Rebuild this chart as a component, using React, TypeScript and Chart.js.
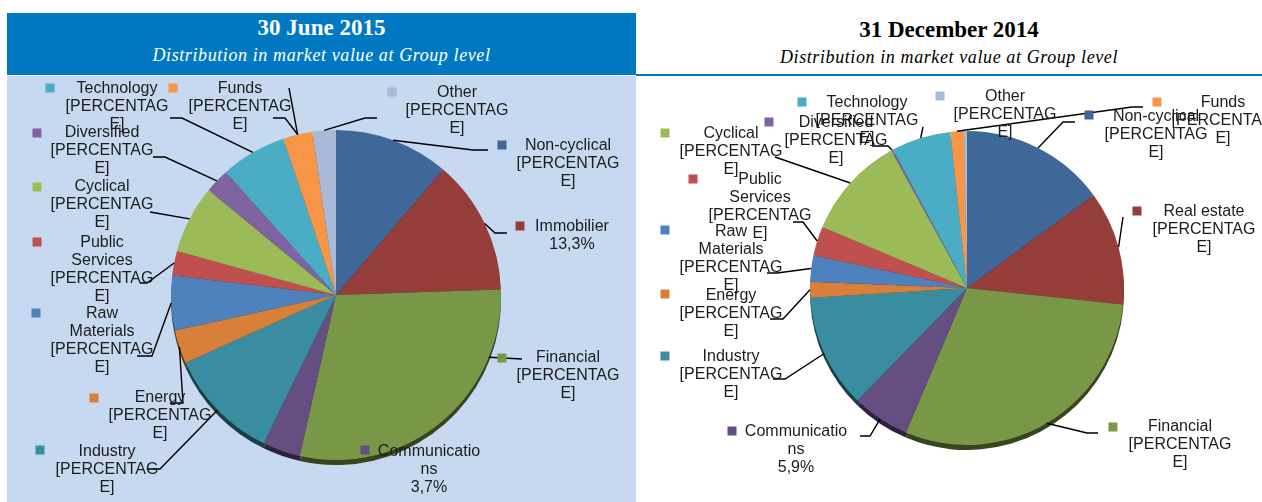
import React, { useEffect, useRef } from 'react';
import { Chart, registerables } from 'chart.js';

Chart.register(...registerables);

// ---------------- DATA ----------------
const LEFT_CATEGORIES = ['Non-cyclical', 'Immobilier', 'Financial', 'Communications', 'Industry', 'Energy', 'Raw Materials', 'Public Services', 'Cyclical', 'Diversified', 'Technology', 'Funds', 'Other'];
const LEFT_VALUES = [11.3, 13.3, 29.2, 3.7, 11.1, 3.3, 5.4, 2.4, 6.7, 2.4, 6.5, 2.9, 2.3];
const LEFT_LABEL_TEXT = ['Non-cyclical\n[PERCENTAG\nE]', 'Immobilier\n13,3%', 'Financial\n[PERCENTAG\nE]', 'Communicatio\nns\n3,7%', 'Industry\n[PERCENTAG\nE]', 'Energy\n[PERCENTAG\nE]', 'Raw\nMaterials\n[PERCENTAG\nE]', 'Public\nServices\n[PERCENTAG\nE]', 'Cyclical\n[PERCENTAG\nE]', 'Diversified\n[PERCENTAG\nE]', 'Technology\n[PERCENTAG\nE]', 'Funds\n[PERCENTAG\nE]', 'Other\n[PERCENTAG\nE]'];

const RIGHT_CATEGORIES = ['Non-cyclical', 'Real estate', 'Financial', 'Communications', 'Industry', 'Energy', 'Raw Materials', 'Public Services', 'Cyclical', 'Diversified', 'Technology', 'Funds', 'Other'];
const RIGHT_VALUES = [14.9, 11.7, 29.6, 5.9, 11.7, 1.6, 2.7, 3.0, 10.6, 0.2, 6.1, 1.4, 0.3];
const RIGHT_LABEL_TEXT = ['Non-cyclical\n[PERCENTAG\nE]', 'Real estate\n[PERCENTAG\nE]', 'Financial\n[PERCENTAG\nE]', 'Communicatio\nns\n5,9%', 'Industry\n[PERCENTAG\nE]', 'Energy\n[PERCENTAG\nE]', 'Raw\nMaterials\n[PERCENTAG\nE]', 'Public\nServices\n[PERCENTAG\nE]', 'Cyclical\n[PERCENTAG\nE]', 'Diversified\n[PERCENTAG\nE]', 'Technology\n[PERCENTAG\nE]', 'Funds\n[PERCENTAG\nE]', 'Other\n[PERCENTAG\nE]'];

const SLICE_COLORS = ['#3F6898', '#953D3A', '#789747', '#654E82', '#3A8CA1', '#D8803A', '#4F81BD', '#C0504D', '#9BBB59', '#8064A2', '#4BACC6', '#F79646', '#A8BAD8'];

// ---------------- LABEL LAYOUT (page coordinates) ----------------
type LabelLayout = { m: [number, number]; t: [number, number]; path: [number, number][]; at?: number; extra?: [number, number][] };

const LEFT_LAYOUT: LabelLayout[] = [
  { m: [502, 145], t: [568, 146], path: [[473, 150], [488, 150]] },
  { m: [520, 226], t: [572, 227], path: [[495, 233], [507, 233]] },
  { m: [502, 358], t: [568, 358], path: [[522, 359]], at: 0.23 },
  { m: [365, 450], t: [429, 452], path: [] },
  { m: [40, 450], t: [107, 452], path: [[160, 469], [148, 469]] },
  { m: [94, 398], t: [160, 398], path: [[183, 403], [170, 403]] },
  { m: [36, 313], t: [102, 314], path: [[152, 356], [137, 356]] },
  { m: [37, 242], t: [102, 243], path: [[147, 283], [140, 283]] },
  { m: [37, 187], t: [102, 187], path: [[150, 212]] },
  { m: [37, 133], t: [102, 133], path: [[165, 157], [153, 157]] },
  { m: [50, 88], t: [117, 89], path: [[182, 118], [170, 118]] },
  { m: [173, 88], t: [240, 89], path: [[285, 118], [273, 118]], extra: [[289, 88]] },
  { m: [392, 92], t: [457, 93], path: [[365, 118], [377, 118]] },
];

const RIGHT_LAYOUT: LabelLayout[] = [
  { m: [1089, 115], t: [1156, 117], path: [[1063, 122], [1075, 122]] },
  { m: [1137, 211], t: [1204, 212], path: [[1123, 217]] },
  { m: [1113, 427], t: [1180, 427], path: [[1087, 433], [1098, 433]] },
  { m: [732, 431], t: [796, 432], path: [[870, 436], [860, 436]] },
  { m: [665, 356], t: [731, 357], path: [[785, 379], [773, 379]] },
  { m: [665, 294], t: [731, 296], path: [[783, 319], [770, 319]] },
  { m: [665, 230], t: [731, 232], path: [[777, 273], [767, 273]] },
  { m: [693, 179], t: [760, 180], path: [[803, 222], [793, 222]] },
  { m: [665, 133], t: [731, 134], path: [[775, 157]] },
  { m: [769, 122], t: [836, 123], path: [[888, 146], [872, 146]] },
  { m: [802, 102], t: [867, 103], path: [[923, 127]] },
  { m: [1157, 102], t: [1223, 103], path: [[1132, 107], [1143, 107]] },
  { m: [940, 96], t: [1005, 97], path: [] },
];

const LINE_HEIGHT = 18;
const RIM = 5;

function darken(hex: string, f: number) {
  const n = parseInt(hex.slice(1), 16);
  const r = Math.round(((n >> 16) & 255) * f);
  const g = Math.round(((n >> 8) & 255) * f);
  const b = Math.round((n & 255) * f);
  return `rgb(${r},${g},${b})`;
}

function makeCalloutPlugin(layout: LabelLayout[], texts: string[], ox: number, oy: number) {
  return {
    id: 'callouts',
    beforeDatasetsDraw(chart: any) {
      const ctx = chart.ctx;
      const meta = chart.getDatasetMeta(0);
      ctx.save();
      meta.data.forEach((arc: any, i: number) => {
        const p = arc.getProps(['x', 'y', 'startAngle', 'endAngle', 'outerRadius'], true);
        ctx.beginPath();
        ctx.moveTo(p.x, p.y + RIM);
        ctx.arc(p.x, p.y + RIM, p.outerRadius, p.startAngle, p.endAngle);
        ctx.closePath();
        ctx.fillStyle = darken(SLICE_COLORS[i], 0.45);
        ctx.fill();
      });
      ctx.restore();
    },
    afterDraw(chart: any) {
      const ctx = chart.ctx;
      const meta = chart.getDatasetMeta(0);
      ctx.save();
      ctx.strokeStyle = '#000';
      ctx.lineWidth = 1.4;
      meta.data.forEach((arc: any, i: number) => {
        const L = layout[i];
        if (!L || L.path.length === 0) return;
        const p = arc.getProps(['x', 'y', 'startAngle', 'endAngle', 'outerRadius'], true);
        const t = L.at ?? 0.5;
        const a = p.startAngle + t * (p.endAngle - p.startAngle);
        const sx = p.x + p.outerRadius * Math.cos(a);
        const sy = p.y + p.outerRadius * Math.sin(a);
        ctx.beginPath();
        ctx.moveTo(sx, sy);
        L.path.forEach(([px, py]) => ctx.lineTo(px - ox, py - oy));
        ctx.stroke();
        if (L.extra) {
          ctx.beginPath();
          ctx.moveTo(sx, sy);
          L.extra.forEach(([px, py]) => ctx.lineTo(px - ox, py - oy));
          ctx.stroke();
        }
      });
      ctx.font = '16px "Liberation Sans", Arial, sans-serif';
      ctx.textAlign = 'center';
      ctx.textBaseline = 'middle';
      meta.data.forEach((_arc: any, i: number) => {
        const L = layout[i];
        if (!L) return;
        ctx.fillStyle = SLICE_COLORS[i];
        ctx.fillRect(L.m[0] - ox - 4.5, L.m[1] - oy - 4.5, 9, 9);
        ctx.fillStyle = '#1c1c1c';
        texts[i].split('\n').forEach((line, k) => {
          ctx.fillText(line, L.t[0] - ox, L.t[1] - oy + k * LINE_HEIGHT);
        });
      });
      ctx.restore();
    },
  };
}

type PieProps = {
  categories: string[];
  values: number[];
  texts: string[];
  layout: LabelLayout[];
  left: number;
  top: number;
  width: number;
  height: number;
  padding: { left: number; right: number; top: number; bottom: number };
};

function Pie({ categories, values, texts, layout, left, top, width, height, padding }: PieProps) {
  const ref = useRef<HTMLCanvasElement>(null);
  useEffect(() => {
    if (!ref.current) return;
    const chart = new Chart(ref.current, {
      type: 'pie',
      data: {
        labels: categories,
        datasets: [{ data: values, backgroundColor: SLICE_COLORS, borderWidth: 0 }],
      },
      options: {
        animation: false,
        responsive: false,
        layout: { padding },
        plugins: { legend: { display: false }, tooltip: { enabled: false } },
      },
      plugins: [makeCalloutPlugin(layout, texts, left, top) as any],
    });
    return () => chart.destroy();
  }, []);
  return (
    <canvas
      ref={ref}
      width={width}
      height={height}
      style={{ position: 'absolute', left, top, width, height }}
    />
  );
}

export default function App() {
  const serif = '"Liberation Serif", "DejaVu Serif", serif';
  return (
    <div style={{ position: 'fixed', left: 0, top: 0, width: 1262, height: 502, background: '#fff', overflow: 'hidden' }}>
      <div style={{ position: 'absolute', left: 7, top: 13, width: 629, height: 62, background: '#0079C2' }} />
      <div style={{ position: 'absolute', left: 7, top: 76, width: 629, height: 426, background: '#C6D9F0' }} />
      <div style={{ position: 'absolute', left: 7, width: 629, top: 14, lineHeight: '28px', textAlign: 'center', color: '#fff', fontFamily: serif, fontWeight: 'bold', fontSize: 23 }}>30 June 2015</div>
      <div style={{ position: 'absolute', left: 7, width: 629, top: 44, lineHeight: '22px', textAlign: 'center', color: '#fff', fontFamily: serif, fontStyle: 'italic', fontSize: 18, letterSpacing: 0.6 }}>Distribution in market value at Group level</div>
      <div style={{ position: 'absolute', left: 636, top: 74, width: 626, height: 2, background: '#0079C2' }} />
      <div style={{ position: 'absolute', left: 636, width: 626, top: 16, lineHeight: '28px', textAlign: 'center', color: '#000', fontFamily: serif, fontWeight: 'bold', fontSize: 23 }}>31 December 2014</div>
      <div style={{ position: 'absolute', left: 636, width: 626, top: 46, lineHeight: '22px', textAlign: 'center', color: '#000', fontFamily: serif, fontStyle: 'italic', fontSize: 18, letterSpacing: 0.6 }}>Distribution in market value at Group level</div>

      <Pie
        categories={LEFT_CATEGORIES}
        values={LEFT_VALUES}
        texts={LEFT_LABEL_TEXT}
        layout={LEFT_LAYOUT}
        left={7}
        top={76}
        width={629}
        height={426}
        padding={{ left: 164, right: 135, top: 54, bottom: 42 }}
      />
      <Pie
        categories={RIGHT_CATEGORIES}
        values={RIGHT_VALUES}
        texts={RIGHT_LABEL_TEXT}
        layout={RIGHT_LAYOUT}
        left={636}
        top={76}
        width={626}
        height={426}
        padding={{ left: 174, right: 138, top: 55, bottom: 57 }}
      />
    </div>
  );
}
